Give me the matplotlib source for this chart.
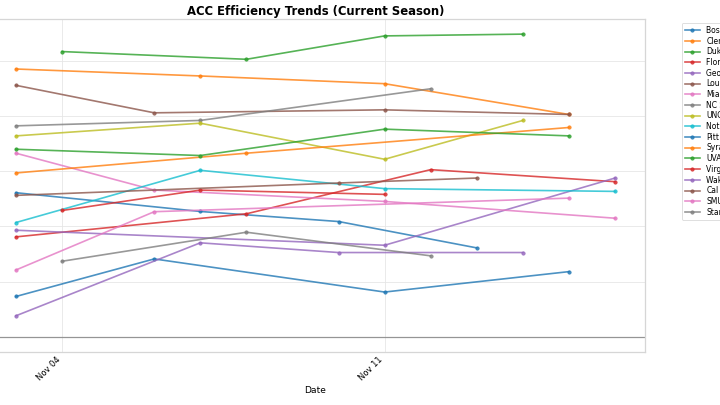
import matplotlib
matplotlib.use("Agg")
import matplotlib.pyplot as plt
import matplotlib.dates as mdates
import matplotlib.ticker as mticker
from datetime import datetime

# ---- data ----
teams = ["Boston College", "Clemson", "Duke", "Florida State", "Georgia Tech",
         "Louisville", "Miami", "NC State", "UNC", "Notre Dame", "Pitt",
         "Syracuse", "UVA", "Virginia Tech", "Wake Forest", "Cal", "SMU", "Stanford"]

boston_college_days = [3, 7, 10, 13]
boston_college_vals = [13.06, 11.36, 10.45, 8.06]
clemson_days = [3, 7, 11, 15]
clemson_vals = [24.27, 23.64, 22.94, 20.15]
duke_days = [4, 8, 11, 14]
duke_vals = [25.85, 25.15, 27.27, 27.43]
florida_state_days = [3, 8, 12, 16]
florida_state_vals = [9.06, 11.15, 15.15, 14.06]
georgia_tech_days = [3, 11, 16]
georgia_tech_vals = [9.66, 8.30, 14.39]
louisville_days = [3, 6, 11, 15]
louisville_vals = [22.79, 20.30, 20.57, 20.15]
miami_days = [3, 6, 11, 16]
miami_vals = [16.64, 13.30, 12.27, 10.75]
nc_state_days = [3, 7, 12]
nc_state_vals = [19.12, 19.61, 22.48]
unc_days = [3, 7, 11, 14]
unc_vals = [18.21, 19.36, 16.09, 19.61]
notre_dame_days = [3, 7, 11, 16]
notre_dame_vals = [10.36, 15.09, 13.43, 13.18]
pitt_days = [3, 6, 11, 15]
pitt_vals = [3.66, 7.06, 4.06, 5.91]
syracuse_days = [3, 8, 15]
syracuse_vals = [14.85, 16.64, 18.97]
uva_days = [3, 7, 11, 15]
uva_vals = [17.00, 16.43, 18.82, 18.21]
virginia_tech_days = [4, 7, 11]
virginia_tech_vals = [11.45, 13.30, 12.91]
wake_forest_days = [3, 7, 10, 14]
wake_forest_vals = [1.91, 8.52, 7.64, 7.64]
cal_days = [3, 10, 13]
cal_vals = [12.82, 13.94, 14.39]
smu_days = [3, 6, 15]
smu_vals = [6.06, 11.34, 12.57]
stanford_days = [4, 8, 12]
stanford_vals = [6.85, 9.48, 7.34]

series_days = [boston_college_days, clemson_days, duke_days, florida_state_days,
               georgia_tech_days, louisville_days, miami_days, nc_state_days,
               unc_days, notre_dame_days, pitt_days, syracuse_days, uva_days,
               virginia_tech_days, wake_forest_days, cal_days, smu_days, stanford_days]
series_vals = [boston_college_vals, clemson_vals, duke_vals, florida_state_vals,
               georgia_tech_vals, louisville_vals, miami_vals, nc_state_vals,
               unc_vals, notre_dame_vals, pitt_vals, syracuse_vals, uva_vals,
               virginia_tech_vals, wake_forest_vals, cal_vals, smu_vals, stanford_vals]

YEAR, MONTH = 2024, 11

# ---- figure ----
fig = plt.figure(figsize=(12, 6.75), dpi=60)
ax = fig.add_axes([-0.0194, 0.1309, 0.9152, 0.8222])

colors = plt.rcParams['axes.prop_cycle'].by_key()['color']
for i, (name, days, vals) in enumerate(zip(teams, series_days, series_vals)):
    dates = [datetime(YEAR, MONTH, d) for d in days]
    ax.plot(dates, vals, marker='o', markersize=4, linewidth=2, alpha=0.8,
            color=colors[i % 10], label=name)

ax.axhline(0, color='gray', linewidth=1.5, alpha=0.8)

ax.set_title("ACC Efficiency Trends (Current Season)", fontsize=14,
             fontweight='bold', pad=5)
ax.set_xlabel("Date", fontsize=11)

ax.xaxis.set_major_locator(mdates.WeekdayLocator(byweekday=mdates.MO))
ax.xaxis.set_major_formatter(mdates.DateFormatter('%b %d'))
plt.setp(ax.get_xticklabels(), rotation=45, ha='right', fontsize=10)
ax.tick_params(axis='both', length=0)
ax.yaxis.set_major_locator(mticker.MultipleLocator(5))
ax.yaxis.set_major_formatter(mticker.NullFormatter())

ax.grid(True, color='#e6e6e6', linewidth=1)
ax.set_axisbelow(True)
for sp in ax.spines.values():
    sp.set_color('#d6d6d6')
    sp.set_linewidth(1.5)

leg = ax.legend(bbox_to_anchor=(1.05, 1), loc='upper left', fontsize=9.2,
                labelspacing=0.22)
leg.get_frame().set_edgecolor('#d0d0d0')

fig.savefig("out.png", dpi=60)
